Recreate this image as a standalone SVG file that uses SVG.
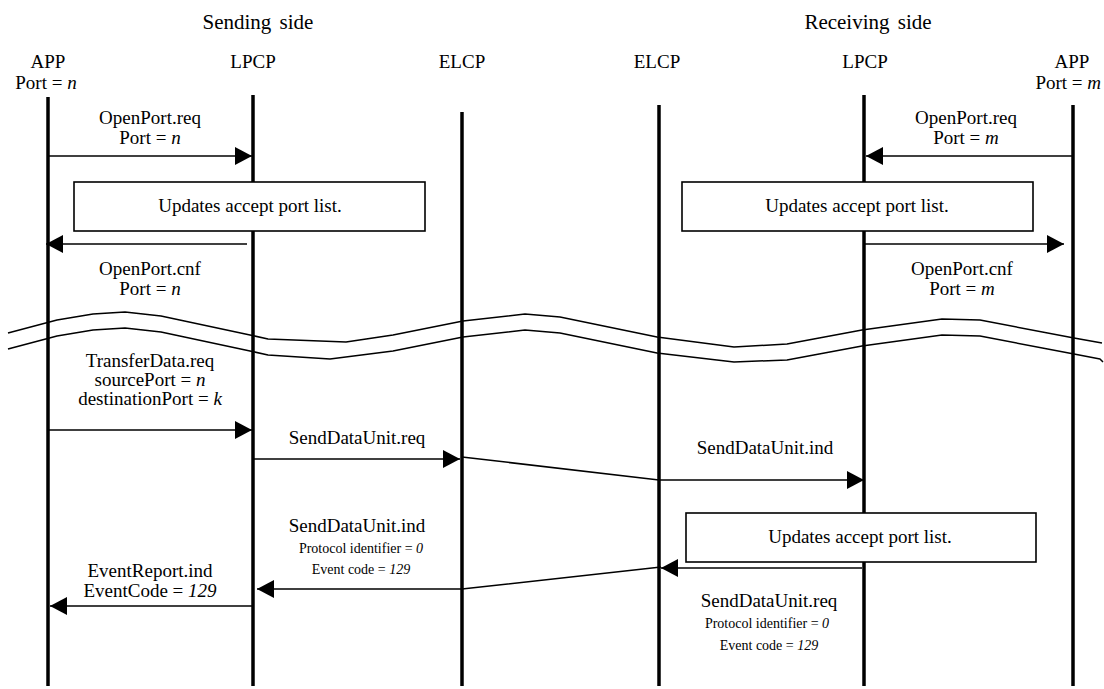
<svg xmlns="http://www.w3.org/2000/svg" width="1104" height="689" viewBox="0 0 1104 689">
  <style>
    text { fill: #000; text-anchor: middle; font-family: "Liberation Serif", "Times New Roman", serif; }
    .head { font-size: 21px; word-spacing: 3px; }
    .lbl { font-size: 19px; }
    .sm { font-size: 14px; }
    .it { font-style: italic; }
    .life { stroke: #000; stroke-width: 3.5; fill: none; }
    .msg { stroke: #000; stroke-width: 1.5; fill: none; marker-end: url(#ah); }
    .box { fill: #fff; stroke: #000; stroke-width: 1.6; }
    .wave { stroke: #000; stroke-width: 1.5; fill: none; stroke-linejoin: round; }
  </style>
  <defs>
    <marker id="ah" viewBox="0 0 17 18" refX="17" refY="9" markerWidth="17" markerHeight="18" markerUnits="userSpaceOnUse" orient="auto">
      <path d="M0,0 L17,9 L0,18 z" fill="#000"/>
    </marker>
  </defs>
  <rect width="1104" height="689" fill="#fff"/>

  <!-- side headings -->
  <text class="head" x="258" y="29">Sending side</text>
  <text class="head" x="868" y="29">Receiving side</text>

  <!-- lifelines -->
  <g id="app-send">
    <text class="lbl" x="48" y="68">APP</text>
    <text class="lbl" x="46" y="89">Port = <tspan class="it">n</tspan></text>
    <line class="life" x1="48" y1="97" x2="48" y2="686"/>
  </g>
  <g id="lpcp-send">
    <text class="lbl" x="253" y="68">LPCP</text>
    <line class="life" x1="253" y1="95" x2="253" y2="686"/>
  </g>
  <g id="elcp-send">
    <text class="lbl" x="462" y="68">ELCP</text>
    <line class="life" x1="462" y1="112" x2="462" y2="686"/>
  </g>
  <g id="elcp-recv">
    <text class="lbl" x="657" y="68">ELCP</text>
    <line class="life" x1="659" y1="105" x2="659" y2="686"/>
  </g>
  <g id="lpcp-recv">
    <text class="lbl" x="865" y="68">LPCP</text>
    <line class="life" x1="864" y1="95" x2="864" y2="686"/>
  </g>
  <g id="app-recv">
    <text class="lbl" x="1072" y="68">APP</text>
    <text class="lbl" x="1101" y="89" style="text-anchor:end">Port = <tspan class="it">m</tspan></text>
    <line class="life" x1="1073" y1="105" x2="1073" y2="686"/>
  </g>

  <!-- processing boxes -->
  <g id="box-send">
    <rect class="box" x="74" y="182" width="351" height="49"/>
    <text class="lbl" x="250" y="212">Updates accept port list.</text>
  </g>
  <g id="box-recv">
    <rect class="box" x="682" y="182" width="351" height="49"/>
    <text class="lbl" x="857" y="212">Updates accept port list.</text>
  </g>
  <g id="box-recv-2">
    <rect class="box" x="686" y="513" width="350" height="49"/>
    <text class="lbl" x="860" y="543">Updates accept  port list.</text>
  </g>

  <!-- time break -->
  <g id="break">
    <path class="wave" d="M8,333 L57,320 L93,314 L125,312 L161,316 L250,335 L268,339 L346,342 L393,335 L463,321 L525,314 L560,317 L657,337 L734,347 L787,344 L862,330 L942,319 L980,320 L1074,338 L1102,343"/>
    <path class="wave" d="M8,349 L57,336 L93,330 L125,328 L161,332 L250,351 L268,355 L330,359 L393,351 L463,337 L525,330 L560,333 L657,353 L734,362 L787,360 L862,346 L942,335 L980,336 L1074,354 L1100,359 L1103,362"/>
  </g>

  <!-- messages -->
  <g id="connectors">
    <path class="msg" d="M49,156 L252,156"/>
    <path class="msg" d="M247,244 L46,244"/>
    <path class="msg" d="M1072,156 L866,156"/>
    <path class="msg" d="M865,244 L1064,244"/>
    <path class="msg" d="M49,430 L252,430"/>
    <path class="msg" d="M254,459 L460,459"/>
    <path class="msg" d="M462,457 L659,480 L864,480"/>
    <path class="msg" d="M862,568 L661,568"/>
    <path class="msg" d="M661,567 L462,589 L257,589"/>
    <path class="msg" d="M253,606 L50,606"/>
  </g>

  <!-- message labels -->
  <g id="labels">
    <text class="lbl" x="150" y="124">OpenPort.req</text>
    <text class="lbl" x="150" y="144">Port = <tspan class="it">n</tspan></text>
    <text class="lbl" x="150" y="275">OpenPort.cnf</text>
    <text class="lbl" x="150" y="295">Port = <tspan class="it">n</tspan></text>

    <text class="lbl" x="966" y="124">OpenPort.req</text>
    <text class="lbl" x="966" y="144">Port = <tspan class="it">m</tspan></text>
    <text class="lbl" x="962" y="275">OpenPort.cnf</text>
    <text class="lbl" x="962" y="295">Port = <tspan class="it">m</tspan></text>

    <text class="lbl" x="150" y="367">TransferData.req</text>
    <text class="lbl" x="150" y="386">sourcePort = <tspan class="it">n</tspan></text>
    <text class="lbl" x="150" y="405">destinationPort = <tspan class="it">k</tspan></text>

    <text class="lbl" x="357" y="444">SendDataUnit.req</text>
    <text class="lbl" x="765" y="454">SendDataUnit.ind</text>

    <text class="lbl" x="357" y="532">SendDataUnit.ind</text>
    <text class="sm" x="361" y="553">Protocol identifier = <tspan class="it">0</tspan></text>
    <text class="sm" x="361" y="574">Event code = <tspan class="it">129</tspan></text>

    <text class="lbl" x="150" y="577">EventReport.ind</text>
    <text class="lbl" x="150" y="597">EventCode = <tspan class="it">129</tspan></text>

    <text class="lbl" x="769" y="607">SendDataUnit.req</text>
    <text class="sm" x="767" y="628">Protocol identifier = <tspan class="it">0</tspan></text>
    <text class="sm" x="769" y="650">Event code = <tspan class="it">129</tspan></text>
  </g>
</svg>
